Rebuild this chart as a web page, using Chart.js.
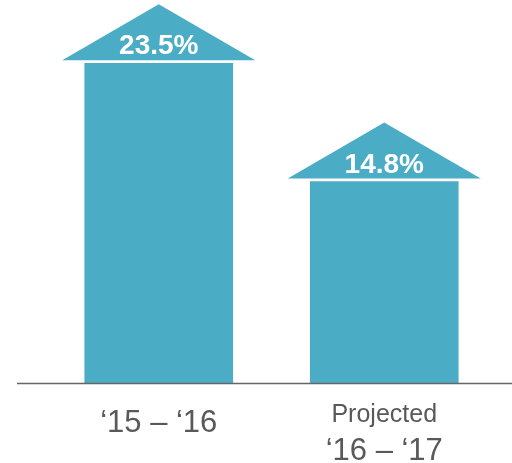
<!DOCTYPE html>
<html>
<head>
<meta charset="utf-8">
<script src="https://cdn.jsdelivr.net/npm/chart.js@4"></script>
<style>
  html, body { margin: 0; padding: 0; background: #fff; }
  canvas { display: block; }
</style>
</head>
<body>
<canvas id="growthChart" width="512" height="463"></canvas>
<script>
// --- DATA ---
const periods = ["\u201815 – \u201816", "\u201816 – \u201817"];
const periodNotes = ["", "Projected"];
const growth = [23.5, 14.8];
const yMax = 28;

const BAR_COLOR = '#4bacc6';
const TEXT_COLOR = '#595959';

// arrow heads, value labels, baseline and category labels
const arrowPlugin = {
    id: 'arrowHeads',
    afterDatasetsDraw(chart) {
        const ctx = chart.ctx;
        const meta = chart.getDatasetMeta(0);
        const xScale = chart.scales.x;
        const area = chart.chartArea;

        ctx.save();

        // baseline
        ctx.strokeStyle = '#666666';
        ctx.lineWidth = 1.4;
        ctx.beginPath();
        ctx.moveTo(17, area.bottom + 0.5);
        ctx.lineTo(chart.width, area.bottom + 0.5);
        ctx.stroke();

        meta.data.forEach((bar, i) => {
            const cx = bar.x;
            const base = bar.y - 3;
            const half = 96.5;

            ctx.fillStyle = BAR_COLOR;
            ctx.beginPath();
            ctx.moveTo(cx - half, base);
            ctx.lineTo(cx + half, base);
            ctx.lineTo(cx, base - 56);
            ctx.closePath();
            ctx.fill();

            ctx.fillStyle = '#ffffff';
            ctx.font = 'bold 28px "Liberation Sans", Arial, sans-serif';
            ctx.textAlign = 'center';
            ctx.textBaseline = 'alphabetic';
            ctx.fillText(growth[i].toFixed(1) + '%', cx, bar.y - 9);
        });

        // category labels
        ctx.fillStyle = TEXT_COLOR;
        ctx.textAlign = 'center';
        ctx.textBaseline = 'alphabetic';
        periods.forEach((p, i) => {
            const x = xScale.getPixelForValue(i);
            if (periodNotes[i]) {
                ctx.font = '25px "Liberation Sans", Arial, sans-serif';
                ctx.fillText(periodNotes[i], x, area.bottom + 39);
                ctx.font = '31px "Liberation Sans", Arial, sans-serif';
                ctx.fillText(p, x, area.bottom + 77);
            } else {
                ctx.font = '31px "Liberation Sans", Arial, sans-serif';
                ctx.fillText(p, x, area.bottom + 49);
            }
        });

        ctx.restore();
    }
};

new Chart(document.getElementById('growthChart'), {
    type: 'bar',
    data: {
        labels: periods,
        datasets: [{
            data: growth,
            backgroundColor: BAR_COLOR,
            borderWidth: 0,
            barThickness: 148
        }]
    },
    options: {
        responsive: false,
        animation: false,
        devicePixelRatio: 1,
        layout: { padding: { top: 2, bottom: 80, left: 46, right: 15 } },
        plugins: {
            legend: { display: false },
            tooltip: { enabled: false }
        },
        scales: {
            x: { display: false },
            y: { display: false, min: 0, max: yMax }
        }
    },
    plugins: [arrowPlugin]
});
</script>
</body>
</html>
